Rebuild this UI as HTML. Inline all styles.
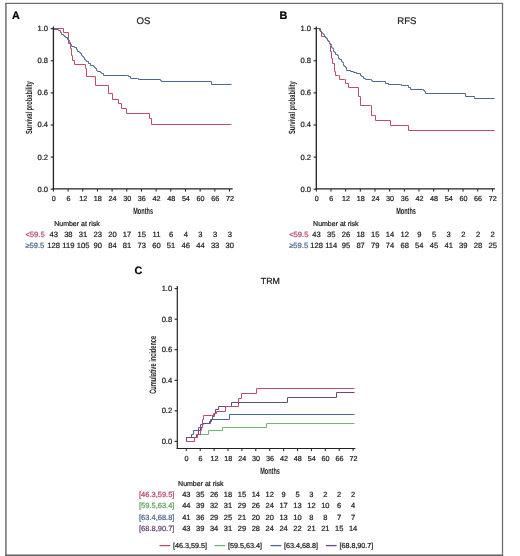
<!DOCTYPE html>
<html><head><meta charset="utf-8"><title>Figure</title>
<style>
html,body{margin:0;padding:0;background:#fff;}
body{width:520px;height:556px;overflow:hidden;}
svg{display:block;font-family:"Liberation Sans", sans-serif;will-change:transform;text-rendering:geometricPrecision;filter:blur(0.25px);}
</style></head>
<body>
<svg width="520" height="556" viewBox="0 0 520 556">
<rect x="0" y="0" width="520" height="556" fill="#fff"/>
<line x1="5.9" y1="2.9" x2="5.9" y2="556" stroke="#707070" stroke-width="1.5"/>
<line x1="5.2" y1="3.45" x2="503.1" y2="3.45" stroke="#707070" stroke-width="1.2"/>
<line x1="502.5" y1="2.9" x2="502.5" y2="556" stroke="#707070" stroke-width="1.3"/>
<line x1="5.2" y1="555.3" x2="503.1" y2="555.3" stroke="#606060" stroke-width="1.4"/>
<text x="11.9" y="18.9" font-size="10.8" fill="#000" font-weight="bold" stroke="#000" stroke-width="0.22" >A</text>
<text x="143.5" y="23.8" font-size="9.6" text-anchor="middle" fill="#222" stroke="#222" stroke-width="0.22" >OS</text>
<polyline points="53.5,28.5 63.5,28.5 63.5,32.5 68.5,32.5 68.5,37.5 68.5,37.5 68.5,43.5 70.5,43.5 70.5,48.5 71.5,48.5 71.5,55.5 72.5,55.5 72.5,60.5 74.5,60.5 74.5,64.5 85.5,64.5 85.5,68.5 86.5,68.5 86.5,76.5 95.5,76.5 95.5,85.5 108.5,85.5 108.5,93.5 112.5,93.5 112.5,99.5 118.5,99.5 118.5,103.5 121.5,103.5 121.5,108.5 126.5,108.5 126.5,113.5 149.5,113.5 149.5,118.5 151.5,118.5 151.5,118.5 151.5,124.5 231.5,124.5" fill="none" stroke="#c24a6c" stroke-width="1.0" stroke-linejoin="miter"/>
<polyline points="53.5,28.5 53.5,28.5 53.5,29.5 58.5,29.5 58.5,30.5 60.5,30.5 60.5,32.5 61.5,32.5 61.5,34.5 63.5,34.5 63.5,35.5 64.5,35.5 64.5,36.5 65.5,36.5 65.5,37.5 67.5,37.5 67.5,39.5 68.5,39.5 68.5,40.5 69.5,40.5 69.5,41.5 69.5,41.5 69.5,42.5 70.5,42.5 70.5,44.5 71.5,44.5 71.5,45.5 71.5,45.5 71.5,46.5 74.5,46.5 74.5,47.5 76.5,47.5 76.5,49.5 77.5,49.5 77.5,51.5 79.5,51.5 79.5,52.5 80.5,52.5 80.5,53.5 81.5,53.5 81.5,55.5 82.5,55.5 82.5,56.5 83.5,56.5 83.5,57.5 84.5,57.5 84.5,59.5 85.5,59.5 85.5,60.5 86.5,60.5 86.5,61.5 88.5,61.5 88.5,63.5 90.5,63.5 90.5,65.5 93.5,65.5 93.5,66.5 94.5,66.5 94.5,67.5 95.5,67.5 95.5,68.5 96.5,68.5 96.5,70.5 97.5,70.5 97.5,71.5 100.5,71.5 100.5,72.5 101.5,72.5 101.5,73.5 103.5,73.5 103.5,75.5 127.5,75.5 128.5,75.5 128.5,76.5 130.5,76.5 130.5,78.5 137.5,78.5 137.5,78.5 138.5,78.5 138.5,79.5 160.5,79.5 160.5,80.5 161.5,80.5 161.5,81.5 211.5,81.5 211.5,84.5 231.5,84.5" fill="none" stroke="#4a6890" stroke-width="1.0" stroke-linejoin="miter"/>
<line x1="53.4" y1="26.5" x2="53.4" y2="189.7" stroke="#222" stroke-width="1.3"/>
<line x1="52.8" y1="188.9" x2="232.7" y2="188.9" stroke="#222" stroke-width="1.4"/>
<line x1="50.7" y1="189.2" x2="53.4" y2="189.2" stroke="#222" stroke-width="1.1"/>
<text x="48.1" y="191.6" font-size="7.6" text-anchor="end" fill="#222" stroke="#222" stroke-width="0.22" >0.0</text>
<line x1="50.7" y1="157.1" x2="53.4" y2="157.1" stroke="#222" stroke-width="1.1"/>
<text x="48.1" y="159.5" font-size="7.6" text-anchor="end" fill="#222" stroke="#222" stroke-width="0.22" >0.2</text>
<line x1="50.7" y1="125" x2="53.4" y2="125" stroke="#222" stroke-width="1.1"/>
<text x="48.1" y="127.4" font-size="7.6" text-anchor="end" fill="#222" stroke="#222" stroke-width="0.22" >0.4</text>
<line x1="50.7" y1="92.9" x2="53.4" y2="92.9" stroke="#222" stroke-width="1.1"/>
<text x="48.1" y="95.3" font-size="7.6" text-anchor="end" fill="#222" stroke="#222" stroke-width="0.22" >0.6</text>
<line x1="50.7" y1="60.8" x2="53.4" y2="60.8" stroke="#222" stroke-width="1.1"/>
<text x="48.1" y="63.2" font-size="7.6" text-anchor="end" fill="#222" stroke="#222" stroke-width="0.22" >0.8</text>
<line x1="50.7" y1="28.7" x2="53.4" y2="28.7" stroke="#222" stroke-width="1.1"/>
<text x="48.1" y="31.1" font-size="7.6" text-anchor="end" fill="#222" stroke="#222" stroke-width="0.22" >1.0</text>
<line x1="53.4" y1="189" x2="53.4" y2="191.6" stroke="#222" stroke-width="1"/>
<text x="53.8" y="201.4" font-size="7.2" text-anchor="middle" fill="#222" stroke="#222" stroke-width="0.22" >0</text>
<line x1="68.08" y1="189" x2="68.08" y2="191.6" stroke="#222" stroke-width="1"/>
<text x="68.48" y="201.4" font-size="7.2" text-anchor="middle" fill="#222" stroke="#222" stroke-width="0.22" >6</text>
<line x1="82.75" y1="189" x2="82.75" y2="191.6" stroke="#222" stroke-width="1"/>
<text x="83.15" y="201.4" font-size="7.2" text-anchor="middle" fill="#222" stroke="#222" stroke-width="0.22" >12</text>
<line x1="97.43" y1="189" x2="97.43" y2="191.6" stroke="#222" stroke-width="1"/>
<text x="97.83" y="201.4" font-size="7.2" text-anchor="middle" fill="#222" stroke="#222" stroke-width="0.22" >18</text>
<line x1="112.1" y1="189" x2="112.1" y2="191.6" stroke="#222" stroke-width="1"/>
<text x="112.5" y="201.4" font-size="7.2" text-anchor="middle" fill="#222" stroke="#222" stroke-width="0.22" >24</text>
<line x1="126.78" y1="189" x2="126.78" y2="191.6" stroke="#222" stroke-width="1"/>
<text x="127.18" y="201.4" font-size="7.2" text-anchor="middle" fill="#222" stroke="#222" stroke-width="0.22" >30</text>
<line x1="141.45" y1="189" x2="141.45" y2="191.6" stroke="#222" stroke-width="1"/>
<text x="141.85" y="201.4" font-size="7.2" text-anchor="middle" fill="#222" stroke="#222" stroke-width="0.22" >36</text>
<line x1="156.12" y1="189" x2="156.12" y2="191.6" stroke="#222" stroke-width="1"/>
<text x="156.53" y="201.4" font-size="7.2" text-anchor="middle" fill="#222" stroke="#222" stroke-width="0.22" >42</text>
<line x1="170.8" y1="189" x2="170.8" y2="191.6" stroke="#222" stroke-width="1"/>
<text x="171.2" y="201.4" font-size="7.2" text-anchor="middle" fill="#222" stroke="#222" stroke-width="0.22" >48</text>
<line x1="185.48" y1="189" x2="185.48" y2="191.6" stroke="#222" stroke-width="1"/>
<text x="185.88" y="201.4" font-size="7.2" text-anchor="middle" fill="#222" stroke="#222" stroke-width="0.22" >54</text>
<line x1="200.15" y1="189" x2="200.15" y2="191.6" stroke="#222" stroke-width="1"/>
<text x="200.55" y="201.4" font-size="7.2" text-anchor="middle" fill="#222" stroke="#222" stroke-width="0.22" >60</text>
<line x1="214.83" y1="189" x2="214.83" y2="191.6" stroke="#222" stroke-width="1"/>
<text x="215.23" y="201.4" font-size="7.2" text-anchor="middle" fill="#222" stroke="#222" stroke-width="0.22" >66</text>
<line x1="229.5" y1="189" x2="229.5" y2="191.6" stroke="#222" stroke-width="1"/>
<text x="229.9" y="201.4" font-size="7.2" text-anchor="middle" fill="#222" stroke="#222" stroke-width="0.22" >72</text>
<text transform="translate(31.7,107.7) rotate(-90) scale(0.632,1)" font-size="9" text-anchor="middle" fill="#222" font-weight="bold">Survival probability</text>
<text transform="translate(143.1,214) scale(0.61,1)" font-size="9.1" text-anchor="middle" fill="#222" font-weight="bold">Months</text>
<text x="54.2" y="225.9" font-size="7" fill="#222" stroke="#222" stroke-width="0.22" >Number at risk</text>
<text x="25.4" y="237.4" font-size="7.6" fill="#b84468" stroke="#b84468" stroke-width="0.22" >&lt;59.5</text>
<text x="53.7" y="237.4" font-size="7.6" text-anchor="middle" fill="#222" stroke="#222" stroke-width="0.22" >43</text>
<text x="68.38" y="237.4" font-size="7.6" text-anchor="middle" fill="#222" stroke="#222" stroke-width="0.22" >38</text>
<text x="83.05" y="237.4" font-size="7.6" text-anchor="middle" fill="#222" stroke="#222" stroke-width="0.22" >31</text>
<text x="97.73" y="237.4" font-size="7.6" text-anchor="middle" fill="#222" stroke="#222" stroke-width="0.22" >23</text>
<text x="112.4" y="237.4" font-size="7.6" text-anchor="middle" fill="#222" stroke="#222" stroke-width="0.22" >20</text>
<text x="127.08" y="237.4" font-size="7.6" text-anchor="middle" fill="#222" stroke="#222" stroke-width="0.22" >17</text>
<text x="141.75" y="237.4" font-size="7.6" text-anchor="middle" fill="#222" stroke="#222" stroke-width="0.22" >15</text>
<text x="156.43" y="237.4" font-size="7.6" text-anchor="middle" fill="#222" stroke="#222" stroke-width="0.22" >11</text>
<text x="171.1" y="237.4" font-size="7.6" text-anchor="middle" fill="#222" stroke="#222" stroke-width="0.22" >6</text>
<text x="185.78" y="237.4" font-size="7.6" text-anchor="middle" fill="#222" stroke="#222" stroke-width="0.22" >4</text>
<text x="200.45" y="237.4" font-size="7.6" text-anchor="middle" fill="#222" stroke="#222" stroke-width="0.22" >3</text>
<text x="215.13" y="237.4" font-size="7.6" text-anchor="middle" fill="#222" stroke="#222" stroke-width="0.22" >3</text>
<text x="229.8" y="237.4" font-size="7.6" text-anchor="middle" fill="#222" stroke="#222" stroke-width="0.22" >3</text>
<text x="25.4" y="248.25" font-size="7.6" fill="#4a6690" stroke="#4a6690" stroke-width="0.22" >≥59.5</text>
<text x="53.7" y="248.25" font-size="7.6" text-anchor="middle" fill="#222" stroke="#222" stroke-width="0.22" >128</text>
<text x="68.38" y="248.25" font-size="7.6" text-anchor="middle" fill="#222" stroke="#222" stroke-width="0.22" >119</text>
<text x="83.05" y="248.25" font-size="7.6" text-anchor="middle" fill="#222" stroke="#222" stroke-width="0.22" >105</text>
<text x="97.73" y="248.25" font-size="7.6" text-anchor="middle" fill="#222" stroke="#222" stroke-width="0.22" >90</text>
<text x="112.4" y="248.25" font-size="7.6" text-anchor="middle" fill="#222" stroke="#222" stroke-width="0.22" >84</text>
<text x="127.08" y="248.25" font-size="7.6" text-anchor="middle" fill="#222" stroke="#222" stroke-width="0.22" >81</text>
<text x="141.75" y="248.25" font-size="7.6" text-anchor="middle" fill="#222" stroke="#222" stroke-width="0.22" >73</text>
<text x="156.43" y="248.25" font-size="7.6" text-anchor="middle" fill="#222" stroke="#222" stroke-width="0.22" >60</text>
<text x="171.1" y="248.25" font-size="7.6" text-anchor="middle" fill="#222" stroke="#222" stroke-width="0.22" >51</text>
<text x="185.78" y="248.25" font-size="7.6" text-anchor="middle" fill="#222" stroke="#222" stroke-width="0.22" >46</text>
<text x="200.45" y="248.25" font-size="7.6" text-anchor="middle" fill="#222" stroke="#222" stroke-width="0.22" >44</text>
<text x="215.13" y="248.25" font-size="7.6" text-anchor="middle" fill="#222" stroke="#222" stroke-width="0.22" >33</text>
<text x="229.8" y="248.25" font-size="7.6" text-anchor="middle" fill="#222" stroke="#222" stroke-width="0.22" >30</text>
<text x="279.6" y="18.9" font-size="10.8" fill="#000" font-weight="bold" stroke="#000" stroke-width="0.22" >B</text>
<text x="406.8" y="23.8" font-size="9.6" text-anchor="middle" fill="#222" stroke="#222" stroke-width="0.22" >RFS</text>
<polyline points="316.5,28.5 320.5,28.5 320.5,28.5 320.5,31.5 321.5,31.5 321.5,36.5 324.5,36.5 326.5,38.5 329.5,42.5 330.5,45.5 330.5,45.5 330.5,51.5 331.5,51.5 331.5,58.5 332.5,58.5 332.5,63.5 334.5,63.5 334.5,71.5 335.5,71.5 335.5,75.5 338.5,75.5 339.5,75.5 339.5,79.5 344.5,79.5 345.5,79.5 345.5,83.5 348.5,83.5 348.5,87.5 358.5,87.5 358.5,87.5 358.5,96.5 360.5,96.5 360.5,96.5 360.5,96.5 360.5,105.5 370.5,105.5 371.5,105.5 371.5,115.5 375.5,115.5 375.5,115.5 375.5,120.5 390.5,120.5 390.5,125.5 408.5,125.5 408.5,130.5 494.5,130.5" fill="none" stroke="#c24a6c" stroke-width="1.0" stroke-linejoin="miter"/>
<polyline points="316.5,28.5 319.5,28.5 319.5,30.5 320.5,30.5 320.5,31.5 321.5,31.5 321.5,32.5 322.5,32.5 322.5,33.5 323.5,33.5 323.5,34.5 324.5,34.5 324.5,36.5 325.5,36.5 325.5,37.5 326.5,37.5 326.5,38.5 327.5,38.5 327.5,40.5 328.5,40.5 328.5,41.5 329.5,41.5 329.5,42.5 329.5,42.5 329.5,43.5 330.5,43.5 330.5,44.5 331.5,44.5 331.5,45.5 331.5,45.5 331.5,47.5 332.5,47.5 332.5,48.5 333.5,48.5 333.5,49.5 333.5,49.5 333.5,51.5 334.5,51.5 334.5,52.5 335.5,52.5 335.5,54.5 337.5,54.5 337.5,55.5 338.5,55.5 338.5,56.5 338.5,56.5 338.5,58.5 339.5,58.5 339.5,59.5 341.5,59.5 341.5,61.5 342.5,61.5 342.5,62.5 343.5,62.5 343.5,63.5 343.5,63.5 343.5,65.5 344.5,65.5 344.5,66.5 345.5,66.5 345.5,67.5 346.5,67.5 346.5,69.5 346.5,69.5 346.5,70.5 350.5,70.5 350.5,71.5 353.5,71.5 353.5,72.5 356.5,72.5 356.5,73.5 360.5,73.5 360.5,75.5 361.5,75.5 361.5,76.5 363.5,76.5 363.5,78.5 365.5,78.5 365.5,79.5 370.5,79.5 371.5,79.5 371.5,80.5 372.5,80.5 372.5,81.5 383.5,81.5 383.5,81.5 385.5,81.5 385.5,83.5 388.5,83.5 388.5,84.5 400.5,84.5 400.5,84.5 401.5,84.5 401.5,85.5 406.5,85.5 406.5,85.5 408.5,85.5 408.5,87.5 410.5,87.5 410.5,89.5 422.5,89.5 423.5,89.5 423.5,90.5 424.5,90.5 424.5,91.5 425.5,91.5 425.5,93.5 465.5,93.5 465.5,96.5 474.5,96.5 474.5,96.5 474.5,97.5 474.5,97.5 474.5,98.5 494.5,98.5" fill="none" stroke="#4a6890" stroke-width="1.0" stroke-linejoin="miter"/>
<line x1="316.3" y1="26.5" x2="316.3" y2="189.7" stroke="#222" stroke-width="1.3"/>
<line x1="315.7" y1="188.9" x2="494.9" y2="188.9" stroke="#222" stroke-width="1.4"/>
<line x1="313.6" y1="189.2" x2="316.3" y2="189.2" stroke="#222" stroke-width="1.1"/>
<text x="311" y="191.6" font-size="7.6" text-anchor="end" fill="#222" stroke="#222" stroke-width="0.22" >0.0</text>
<line x1="313.6" y1="157.1" x2="316.3" y2="157.1" stroke="#222" stroke-width="1.1"/>
<text x="311" y="159.5" font-size="7.6" text-anchor="end" fill="#222" stroke="#222" stroke-width="0.22" >0.2</text>
<line x1="313.6" y1="125" x2="316.3" y2="125" stroke="#222" stroke-width="1.1"/>
<text x="311" y="127.4" font-size="7.6" text-anchor="end" fill="#222" stroke="#222" stroke-width="0.22" >0.4</text>
<line x1="313.6" y1="92.9" x2="316.3" y2="92.9" stroke="#222" stroke-width="1.1"/>
<text x="311" y="95.3" font-size="7.6" text-anchor="end" fill="#222" stroke="#222" stroke-width="0.22" >0.6</text>
<line x1="313.6" y1="60.8" x2="316.3" y2="60.8" stroke="#222" stroke-width="1.1"/>
<text x="311" y="63.2" font-size="7.6" text-anchor="end" fill="#222" stroke="#222" stroke-width="0.22" >0.8</text>
<line x1="313.6" y1="28.7" x2="316.3" y2="28.7" stroke="#222" stroke-width="1.1"/>
<text x="311" y="31.1" font-size="7.6" text-anchor="end" fill="#222" stroke="#222" stroke-width="0.22" >1.0</text>
<line x1="316.3" y1="189" x2="316.3" y2="191.6" stroke="#222" stroke-width="1"/>
<text x="316.7" y="201.4" font-size="7.2" text-anchor="middle" fill="#222" stroke="#222" stroke-width="0.22" >0</text>
<line x1="330.97" y1="189" x2="330.97" y2="191.6" stroke="#222" stroke-width="1"/>
<text x="331.37" y="201.4" font-size="7.2" text-anchor="middle" fill="#222" stroke="#222" stroke-width="0.22" >6</text>
<line x1="345.65" y1="189" x2="345.65" y2="191.6" stroke="#222" stroke-width="1"/>
<text x="346.05" y="201.4" font-size="7.2" text-anchor="middle" fill="#222" stroke="#222" stroke-width="0.22" >12</text>
<line x1="360.32" y1="189" x2="360.32" y2="191.6" stroke="#222" stroke-width="1"/>
<text x="360.72" y="201.4" font-size="7.2" text-anchor="middle" fill="#222" stroke="#222" stroke-width="0.22" >18</text>
<line x1="375" y1="189" x2="375" y2="191.6" stroke="#222" stroke-width="1"/>
<text x="375.4" y="201.4" font-size="7.2" text-anchor="middle" fill="#222" stroke="#222" stroke-width="0.22" >24</text>
<line x1="389.67" y1="189" x2="389.67" y2="191.6" stroke="#222" stroke-width="1"/>
<text x="390.07" y="201.4" font-size="7.2" text-anchor="middle" fill="#222" stroke="#222" stroke-width="0.22" >30</text>
<line x1="404.35" y1="189" x2="404.35" y2="191.6" stroke="#222" stroke-width="1"/>
<text x="404.75" y="201.4" font-size="7.2" text-anchor="middle" fill="#222" stroke="#222" stroke-width="0.22" >36</text>
<line x1="419.02" y1="189" x2="419.02" y2="191.6" stroke="#222" stroke-width="1"/>
<text x="419.42" y="201.4" font-size="7.2" text-anchor="middle" fill="#222" stroke="#222" stroke-width="0.22" >42</text>
<line x1="433.7" y1="189" x2="433.7" y2="191.6" stroke="#222" stroke-width="1"/>
<text x="434.1" y="201.4" font-size="7.2" text-anchor="middle" fill="#222" stroke="#222" stroke-width="0.22" >48</text>
<line x1="448.38" y1="189" x2="448.38" y2="191.6" stroke="#222" stroke-width="1"/>
<text x="448.77" y="201.4" font-size="7.2" text-anchor="middle" fill="#222" stroke="#222" stroke-width="0.22" >54</text>
<line x1="463.05" y1="189" x2="463.05" y2="191.6" stroke="#222" stroke-width="1"/>
<text x="463.45" y="201.4" font-size="7.2" text-anchor="middle" fill="#222" stroke="#222" stroke-width="0.22" >60</text>
<line x1="477.72" y1="189" x2="477.72" y2="191.6" stroke="#222" stroke-width="1"/>
<text x="478.12" y="201.4" font-size="7.2" text-anchor="middle" fill="#222" stroke="#222" stroke-width="0.22" >66</text>
<line x1="492.4" y1="189" x2="492.4" y2="191.6" stroke="#222" stroke-width="1"/>
<text x="492.8" y="201.4" font-size="7.2" text-anchor="middle" fill="#222" stroke="#222" stroke-width="0.22" >72</text>
<text transform="translate(295.2,107.7) rotate(-90) scale(0.632,1)" font-size="9" text-anchor="middle" fill="#222" font-weight="bold">Survival probability</text>
<text transform="translate(406,214) scale(0.61,1)" font-size="9.1" text-anchor="middle" fill="#222" font-weight="bold">Months</text>
<text x="313.1" y="225.9" font-size="7" fill="#222" stroke="#222" stroke-width="0.22" >Number at risk</text>
<text x="289.2" y="237.4" font-size="7.6" fill="#b84468" stroke="#b84468" stroke-width="0.22" >&lt;59.5</text>
<text x="316.6" y="237.4" font-size="7.6" text-anchor="middle" fill="#222" stroke="#222" stroke-width="0.22" >43</text>
<text x="331.27" y="237.4" font-size="7.6" text-anchor="middle" fill="#222" stroke="#222" stroke-width="0.22" >35</text>
<text x="345.95" y="237.4" font-size="7.6" text-anchor="middle" fill="#222" stroke="#222" stroke-width="0.22" >26</text>
<text x="360.62" y="237.4" font-size="7.6" text-anchor="middle" fill="#222" stroke="#222" stroke-width="0.22" >18</text>
<text x="375.3" y="237.4" font-size="7.6" text-anchor="middle" fill="#222" stroke="#222" stroke-width="0.22" >15</text>
<text x="389.97" y="237.4" font-size="7.6" text-anchor="middle" fill="#222" stroke="#222" stroke-width="0.22" >14</text>
<text x="404.65" y="237.4" font-size="7.6" text-anchor="middle" fill="#222" stroke="#222" stroke-width="0.22" >12</text>
<text x="419.32" y="237.4" font-size="7.6" text-anchor="middle" fill="#222" stroke="#222" stroke-width="0.22" >9</text>
<text x="434" y="237.4" font-size="7.6" text-anchor="middle" fill="#222" stroke="#222" stroke-width="0.22" >5</text>
<text x="448.68" y="237.4" font-size="7.6" text-anchor="middle" fill="#222" stroke="#222" stroke-width="0.22" >3</text>
<text x="463.35" y="237.4" font-size="7.6" text-anchor="middle" fill="#222" stroke="#222" stroke-width="0.22" >2</text>
<text x="478.02" y="237.4" font-size="7.6" text-anchor="middle" fill="#222" stroke="#222" stroke-width="0.22" >2</text>
<text x="492.7" y="237.4" font-size="7.6" text-anchor="middle" fill="#222" stroke="#222" stroke-width="0.22" >2</text>
<text x="289.2" y="248.25" font-size="7.6" fill="#4a6690" stroke="#4a6690" stroke-width="0.22" >≥59.5</text>
<text x="316.6" y="248.25" font-size="7.6" text-anchor="middle" fill="#222" stroke="#222" stroke-width="0.22" >128</text>
<text x="331.27" y="248.25" font-size="7.6" text-anchor="middle" fill="#222" stroke="#222" stroke-width="0.22" >114</text>
<text x="345.95" y="248.25" font-size="7.6" text-anchor="middle" fill="#222" stroke="#222" stroke-width="0.22" >95</text>
<text x="360.62" y="248.25" font-size="7.6" text-anchor="middle" fill="#222" stroke="#222" stroke-width="0.22" >87</text>
<text x="375.3" y="248.25" font-size="7.6" text-anchor="middle" fill="#222" stroke="#222" stroke-width="0.22" >79</text>
<text x="389.97" y="248.25" font-size="7.6" text-anchor="middle" fill="#222" stroke="#222" stroke-width="0.22" >74</text>
<text x="404.65" y="248.25" font-size="7.6" text-anchor="middle" fill="#222" stroke="#222" stroke-width="0.22" >68</text>
<text x="419.32" y="248.25" font-size="7.6" text-anchor="middle" fill="#222" stroke="#222" stroke-width="0.22" >54</text>
<text x="434" y="248.25" font-size="7.6" text-anchor="middle" fill="#222" stroke="#222" stroke-width="0.22" >45</text>
<text x="448.68" y="248.25" font-size="7.6" text-anchor="middle" fill="#222" stroke="#222" stroke-width="0.22" >41</text>
<text x="463.35" y="248.25" font-size="7.6" text-anchor="middle" fill="#222" stroke="#222" stroke-width="0.22" >39</text>
<text x="478.02" y="248.25" font-size="7.6" text-anchor="middle" fill="#222" stroke="#222" stroke-width="0.22" >28</text>
<text x="492.7" y="248.25" font-size="7.6" text-anchor="middle" fill="#222" stroke="#222" stroke-width="0.22" >25</text>
<text x="134.6" y="274.1" font-size="10.8" fill="#000" font-weight="bold" stroke="#000" stroke-width="0.22" >C</text>
<text x="270.3" y="283.6" font-size="8.8" text-anchor="middle" fill="#222" stroke="#222" stroke-width="0.22" >TRM</text>
<polyline points="186.5,441.5 194.5,441.5 194.5,437.5 197.5,437.5 197.5,434.5 208.5,434.5 208.5,430.5 222.5,430.5 222.5,427.5 266.5,427.5 266.5,423.5 354.5,423.5" fill="none" stroke="#72b872" stroke-width="1.0" stroke-linejoin="miter"/>
<polyline points="186.5,441.5 186.5,437.5 191.5,437.5 191.5,434.5 193.5,434.5 193.5,430.5 198.5,430.5 198.5,427.5 200.5,427.5 200.5,427.5 200.5,424.5 202.5,424.5 203.5,424.5 203.5,423.5 209.5,423.5 210.5,423.5 210.5,419.5 229.5,419.5 229.5,414.5 354.5,414.5" fill="none" stroke="#4a6890" stroke-width="1.0" stroke-linejoin="miter"/>
<polyline points="186.5,441.5 186.5,437.5 196.5,437.5 196.5,434.5 198.5,434.5 198.5,430.5 200.5,430.5 200.5,427.5 202.5,427.5 202.5,423.5 209.5,423.5 209.5,423.5 209.5,421.5 211.5,421.5 211.5,419.5 212.5,419.5 212.5,416.5 214.5,416.5 214.5,413.5 215.5,413.5 215.5,409.5 218.5,409.5 218.5,406.5 231.5,406.5 231.5,402.5 287.5,402.5 287.5,397.5 336.5,397.5 336.5,392.5 354.5,392.5" fill="none" stroke="#6a4a7c" stroke-width="1.0" stroke-linejoin="miter"/>
<polyline points="186.5,441.5 194.5,441.5 194.5,437.5 197.5,437.5 197.5,434.5 200.5,434.5 200.5,430.5 201.5,430.5 201.5,427.5 202.5,427.5 202.5,419.5 203.5,419.5 203.5,415.5 211.5,415.5 213.5,415.5 213.5,413.5 216.5,413.5 216.5,413.5 216.5,411.5 225.5,411.5 225.5,406.5 238.5,406.5 238.5,398.5 241.5,398.5 241.5,393.5 256.5,393.5 256.5,388.5 354.5,388.5" fill="none" stroke="#c24a6c" stroke-width="1.0" stroke-linejoin="miter"/>
<line x1="177.3" y1="286" x2="177.3" y2="449.1" stroke="#222" stroke-width="1.2"/>
<line x1="176.7" y1="448.5" x2="355.4" y2="448.5" stroke="#222" stroke-width="1.2"/>
<line x1="174.6" y1="441.4" x2="177.3" y2="441.4" stroke="#222" stroke-width="1.1"/>
<text x="172.2" y="443.8" font-size="7.6" text-anchor="end" fill="#222" stroke="#222" stroke-width="0.22" >0.0</text>
<line x1="174.6" y1="410.84" x2="177.3" y2="410.84" stroke="#222" stroke-width="1.1"/>
<text x="172.2" y="413.24" font-size="7.6" text-anchor="end" fill="#222" stroke="#222" stroke-width="0.22" >0.2</text>
<line x1="174.6" y1="380.28" x2="177.3" y2="380.28" stroke="#222" stroke-width="1.1"/>
<text x="172.2" y="382.68" font-size="7.6" text-anchor="end" fill="#222" stroke="#222" stroke-width="0.22" >0.4</text>
<line x1="174.6" y1="349.72" x2="177.3" y2="349.72" stroke="#222" stroke-width="1.1"/>
<text x="172.2" y="352.12" font-size="7.6" text-anchor="end" fill="#222" stroke="#222" stroke-width="0.22" >0.6</text>
<line x1="174.6" y1="319.16" x2="177.3" y2="319.16" stroke="#222" stroke-width="1.1"/>
<text x="172.2" y="321.56" font-size="7.6" text-anchor="end" fill="#222" stroke="#222" stroke-width="0.22" >0.8</text>
<line x1="174.6" y1="288.6" x2="177.3" y2="288.6" stroke="#222" stroke-width="1.1"/>
<text x="172.2" y="291" font-size="7.6" text-anchor="end" fill="#222" stroke="#222" stroke-width="0.22" >1.0</text>
<line x1="186.3" y1="448.5" x2="186.3" y2="451.1" stroke="#222" stroke-width="1"/>
<text x="186.6" y="461.3" font-size="7.2" text-anchor="middle" fill="#222" stroke="#222" stroke-width="0.22" >0</text>
<line x1="200.2" y1="448.5" x2="200.2" y2="451.1" stroke="#222" stroke-width="1"/>
<text x="200.5" y="461.3" font-size="7.2" text-anchor="middle" fill="#222" stroke="#222" stroke-width="0.22" >6</text>
<line x1="214.1" y1="448.5" x2="214.1" y2="451.1" stroke="#222" stroke-width="1"/>
<text x="214.4" y="461.3" font-size="7.2" text-anchor="middle" fill="#222" stroke="#222" stroke-width="0.22" >12</text>
<line x1="228" y1="448.5" x2="228" y2="451.1" stroke="#222" stroke-width="1"/>
<text x="228.3" y="461.3" font-size="7.2" text-anchor="middle" fill="#222" stroke="#222" stroke-width="0.22" >18</text>
<line x1="241.9" y1="448.5" x2="241.9" y2="451.1" stroke="#222" stroke-width="1"/>
<text x="242.2" y="461.3" font-size="7.2" text-anchor="middle" fill="#222" stroke="#222" stroke-width="0.22" >24</text>
<line x1="255.8" y1="448.5" x2="255.8" y2="451.1" stroke="#222" stroke-width="1"/>
<text x="256.1" y="461.3" font-size="7.2" text-anchor="middle" fill="#222" stroke="#222" stroke-width="0.22" >30</text>
<line x1="269.7" y1="448.5" x2="269.7" y2="451.1" stroke="#222" stroke-width="1"/>
<text x="270" y="461.3" font-size="7.2" text-anchor="middle" fill="#222" stroke="#222" stroke-width="0.22" >36</text>
<line x1="283.6" y1="448.5" x2="283.6" y2="451.1" stroke="#222" stroke-width="1"/>
<text x="283.9" y="461.3" font-size="7.2" text-anchor="middle" fill="#222" stroke="#222" stroke-width="0.22" >42</text>
<line x1="297.5" y1="448.5" x2="297.5" y2="451.1" stroke="#222" stroke-width="1"/>
<text x="297.8" y="461.3" font-size="7.2" text-anchor="middle" fill="#222" stroke="#222" stroke-width="0.22" >48</text>
<line x1="311.4" y1="448.5" x2="311.4" y2="451.1" stroke="#222" stroke-width="1"/>
<text x="311.7" y="461.3" font-size="7.2" text-anchor="middle" fill="#222" stroke="#222" stroke-width="0.22" >54</text>
<line x1="325.3" y1="448.5" x2="325.3" y2="451.1" stroke="#222" stroke-width="1"/>
<text x="325.6" y="461.3" font-size="7.2" text-anchor="middle" fill="#222" stroke="#222" stroke-width="0.22" >60</text>
<line x1="339.2" y1="448.5" x2="339.2" y2="451.1" stroke="#222" stroke-width="1"/>
<text x="339.5" y="461.3" font-size="7.2" text-anchor="middle" fill="#222" stroke="#222" stroke-width="0.22" >66</text>
<line x1="353.1" y1="448.5" x2="353.1" y2="451.1" stroke="#222" stroke-width="1"/>
<text x="353.4" y="461.3" font-size="7.2" text-anchor="middle" fill="#222" stroke="#222" stroke-width="0.22" >72</text>
<text transform="translate(156.4,364.8) rotate(-90) scale(0.6,1)" font-size="9.4" text-anchor="middle" fill="#222" font-weight="bold">Cumulative incidence</text>
<text transform="translate(270,473.9) scale(0.61,1)" font-size="9.1" text-anchor="middle" fill="#222" font-weight="bold">Months</text>
<text x="178.1" y="485.7" font-size="7" fill="#222" stroke="#222" stroke-width="0.22" >Number at risk</text>
<text x="139" y="497.1" font-size="7.5" fill="#b84468" stroke="#b84468" stroke-width="0.22" >[46.3,59.5]</text>
<text x="186.3" y="497.1" font-size="7.5" text-anchor="middle" fill="#222" stroke="#222" stroke-width="0.22" >43</text>
<text x="200.2" y="497.1" font-size="7.5" text-anchor="middle" fill="#222" stroke="#222" stroke-width="0.22" >35</text>
<text x="214.1" y="497.1" font-size="7.5" text-anchor="middle" fill="#222" stroke="#222" stroke-width="0.22" >26</text>
<text x="228" y="497.1" font-size="7.5" text-anchor="middle" fill="#222" stroke="#222" stroke-width="0.22" >18</text>
<text x="241.9" y="497.1" font-size="7.5" text-anchor="middle" fill="#222" stroke="#222" stroke-width="0.22" >15</text>
<text x="255.8" y="497.1" font-size="7.5" text-anchor="middle" fill="#222" stroke="#222" stroke-width="0.22" >14</text>
<text x="269.7" y="497.1" font-size="7.5" text-anchor="middle" fill="#222" stroke="#222" stroke-width="0.22" >12</text>
<text x="283.6" y="497.1" font-size="7.5" text-anchor="middle" fill="#222" stroke="#222" stroke-width="0.22" >9</text>
<text x="297.5" y="497.1" font-size="7.5" text-anchor="middle" fill="#222" stroke="#222" stroke-width="0.22" >5</text>
<text x="311.4" y="497.1" font-size="7.5" text-anchor="middle" fill="#222" stroke="#222" stroke-width="0.22" >3</text>
<text x="325.3" y="497.1" font-size="7.5" text-anchor="middle" fill="#222" stroke="#222" stroke-width="0.22" >2</text>
<text x="339.2" y="497.1" font-size="7.5" text-anchor="middle" fill="#222" stroke="#222" stroke-width="0.22" >2</text>
<text x="353.1" y="497.1" font-size="7.5" text-anchor="middle" fill="#222" stroke="#222" stroke-width="0.22" >2</text>
<text x="139" y="508.48" font-size="7.5" fill="#5aa05a" stroke="#5aa05a" stroke-width="0.22" >[59.5,63.4]</text>
<text x="186.3" y="508.48" font-size="7.5" text-anchor="middle" fill="#222" stroke="#222" stroke-width="0.22" >44</text>
<text x="200.2" y="508.48" font-size="7.5" text-anchor="middle" fill="#222" stroke="#222" stroke-width="0.22" >39</text>
<text x="214.1" y="508.48" font-size="7.5" text-anchor="middle" fill="#222" stroke="#222" stroke-width="0.22" >32</text>
<text x="228" y="508.48" font-size="7.5" text-anchor="middle" fill="#222" stroke="#222" stroke-width="0.22" >31</text>
<text x="241.9" y="508.48" font-size="7.5" text-anchor="middle" fill="#222" stroke="#222" stroke-width="0.22" >29</text>
<text x="255.8" y="508.48" font-size="7.5" text-anchor="middle" fill="#222" stroke="#222" stroke-width="0.22" >26</text>
<text x="269.7" y="508.48" font-size="7.5" text-anchor="middle" fill="#222" stroke="#222" stroke-width="0.22" >24</text>
<text x="283.6" y="508.48" font-size="7.5" text-anchor="middle" fill="#222" stroke="#222" stroke-width="0.22" >17</text>
<text x="297.5" y="508.48" font-size="7.5" text-anchor="middle" fill="#222" stroke="#222" stroke-width="0.22" >13</text>
<text x="311.4" y="508.48" font-size="7.5" text-anchor="middle" fill="#222" stroke="#222" stroke-width="0.22" >12</text>
<text x="325.3" y="508.48" font-size="7.5" text-anchor="middle" fill="#222" stroke="#222" stroke-width="0.22" >10</text>
<text x="339.2" y="508.48" font-size="7.5" text-anchor="middle" fill="#222" stroke="#222" stroke-width="0.22" >6</text>
<text x="353.1" y="508.48" font-size="7.5" text-anchor="middle" fill="#222" stroke="#222" stroke-width="0.22" >4</text>
<text x="139" y="519.86" font-size="7.5" fill="#4a6690" stroke="#4a6690" stroke-width="0.22" >[63.4,68.8]</text>
<text x="186.3" y="519.86" font-size="7.5" text-anchor="middle" fill="#222" stroke="#222" stroke-width="0.22" >41</text>
<text x="200.2" y="519.86" font-size="7.5" text-anchor="middle" fill="#222" stroke="#222" stroke-width="0.22" >36</text>
<text x="214.1" y="519.86" font-size="7.5" text-anchor="middle" fill="#222" stroke="#222" stroke-width="0.22" >29</text>
<text x="228" y="519.86" font-size="7.5" text-anchor="middle" fill="#222" stroke="#222" stroke-width="0.22" >25</text>
<text x="241.9" y="519.86" font-size="7.5" text-anchor="middle" fill="#222" stroke="#222" stroke-width="0.22" >21</text>
<text x="255.8" y="519.86" font-size="7.5" text-anchor="middle" fill="#222" stroke="#222" stroke-width="0.22" >20</text>
<text x="269.7" y="519.86" font-size="7.5" text-anchor="middle" fill="#222" stroke="#222" stroke-width="0.22" >20</text>
<text x="283.6" y="519.86" font-size="7.5" text-anchor="middle" fill="#222" stroke="#222" stroke-width="0.22" >13</text>
<text x="297.5" y="519.86" font-size="7.5" text-anchor="middle" fill="#222" stroke="#222" stroke-width="0.22" >10</text>
<text x="311.4" y="519.86" font-size="7.5" text-anchor="middle" fill="#222" stroke="#222" stroke-width="0.22" >8</text>
<text x="325.3" y="519.86" font-size="7.5" text-anchor="middle" fill="#222" stroke="#222" stroke-width="0.22" >8</text>
<text x="339.2" y="519.86" font-size="7.5" text-anchor="middle" fill="#222" stroke="#222" stroke-width="0.22" >7</text>
<text x="353.1" y="519.86" font-size="7.5" text-anchor="middle" fill="#222" stroke="#222" stroke-width="0.22" >7</text>
<text x="139" y="531.24" font-size="7.5" fill="#66467a" stroke="#66467a" stroke-width="0.22" >[68.8,90.7]</text>
<text x="186.3" y="531.24" font-size="7.5" text-anchor="middle" fill="#222" stroke="#222" stroke-width="0.22" >43</text>
<text x="200.2" y="531.24" font-size="7.5" text-anchor="middle" fill="#222" stroke="#222" stroke-width="0.22" >39</text>
<text x="214.1" y="531.24" font-size="7.5" text-anchor="middle" fill="#222" stroke="#222" stroke-width="0.22" >34</text>
<text x="228" y="531.24" font-size="7.5" text-anchor="middle" fill="#222" stroke="#222" stroke-width="0.22" >31</text>
<text x="241.9" y="531.24" font-size="7.5" text-anchor="middle" fill="#222" stroke="#222" stroke-width="0.22" >29</text>
<text x="255.8" y="531.24" font-size="7.5" text-anchor="middle" fill="#222" stroke="#222" stroke-width="0.22" >28</text>
<text x="269.7" y="531.24" font-size="7.5" text-anchor="middle" fill="#222" stroke="#222" stroke-width="0.22" >24</text>
<text x="283.6" y="531.24" font-size="7.5" text-anchor="middle" fill="#222" stroke="#222" stroke-width="0.22" >24</text>
<text x="297.5" y="531.24" font-size="7.5" text-anchor="middle" fill="#222" stroke="#222" stroke-width="0.22" >22</text>
<text x="311.4" y="531.24" font-size="7.5" text-anchor="middle" fill="#222" stroke="#222" stroke-width="0.22" >21</text>
<text x="325.3" y="531.24" font-size="7.5" text-anchor="middle" fill="#222" stroke="#222" stroke-width="0.22" >21</text>
<text x="339.2" y="531.24" font-size="7.5" text-anchor="middle" fill="#222" stroke="#222" stroke-width="0.22" >15</text>
<text x="353.1" y="531.24" font-size="7.5" text-anchor="middle" fill="#222" stroke="#222" stroke-width="0.22" >14</text>
<line x1="159.5" y1="545.6" x2="170.3" y2="545.6" stroke="#c24a6c" stroke-width="1.3"/>
<text x="173.1" y="548.3" font-size="7.2" fill="#222" stroke="#222" stroke-width="0.22" >[46.3,59.5]</text>
<line x1="214.5" y1="545.6" x2="225.3" y2="545.6" stroke="#72b872" stroke-width="1.3"/>
<text x="228.1" y="548.3" font-size="7.2" fill="#222" stroke="#222" stroke-width="0.22" >[59.5,63.4]</text>
<line x1="270.5" y1="545.6" x2="281.3" y2="545.6" stroke="#4a6890" stroke-width="1.3"/>
<text x="284.1" y="548.3" font-size="7.2" fill="#222" stroke="#222" stroke-width="0.22" >[63.4,68.8]</text>
<line x1="325.8" y1="545.6" x2="336.6" y2="545.6" stroke="#6a4a7c" stroke-width="1.3"/>
<text x="339.4" y="548.3" font-size="7.2" fill="#222" stroke="#222" stroke-width="0.22" >[68.8,90.7]</text>
</svg>
</body></html>
